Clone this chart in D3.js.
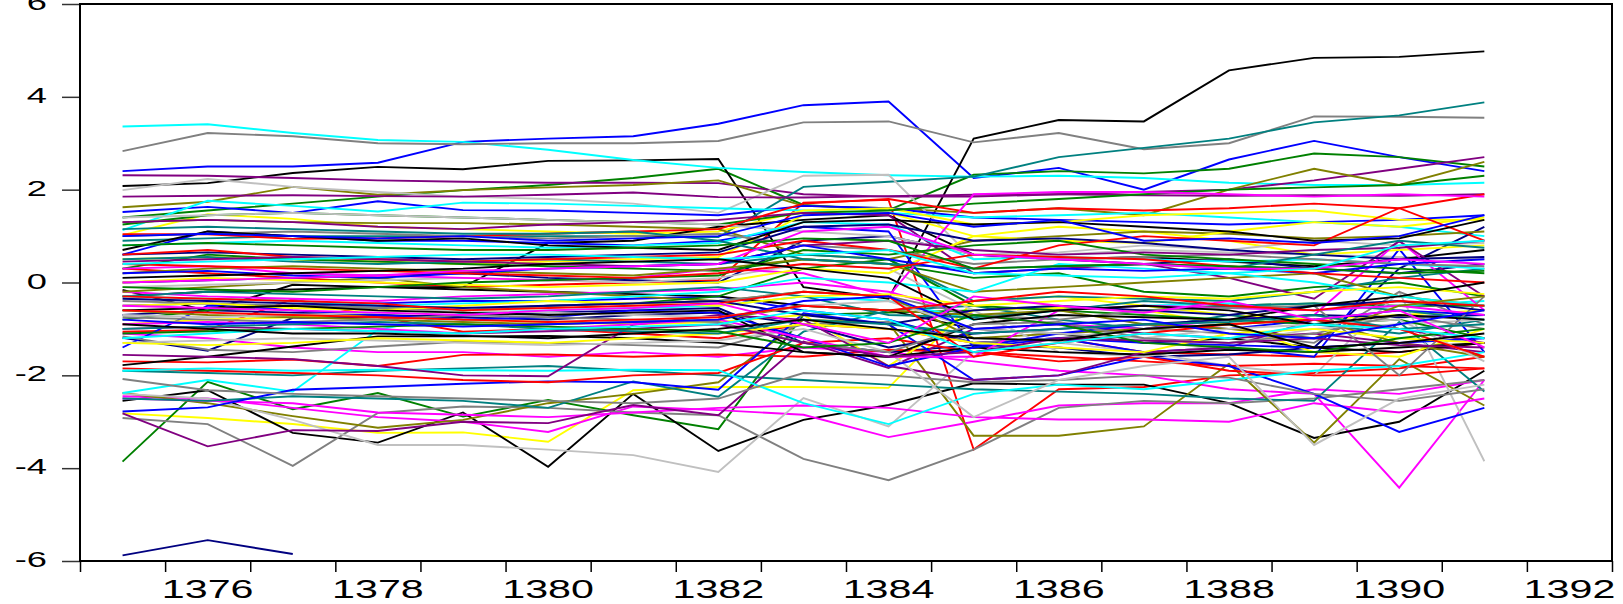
<!DOCTYPE html>
<html>
<head>
<meta charset="utf-8">
<script src="https://cdn.jsdelivr.net/npm/d3@7"></script>
<style>
    html, body { margin: 0; padding: 0; background: #fff; }
    svg { display: block; }
    .lbl { font-family: "Liberation Sans", Arial, sans-serif; fill: #000; }
</style>
</head>
<body>
<script>
// years of observation (one point per year)
const years = [1375, 1376, 1377, 1378, 1379, 1380, 1381, 1382, 1383, 1384, 1385, 1386, 1387, 1388, 1389, 1390, 1391];
const xTickLabels = [1376, 1378, 1380, 1382, 1384, 1386, 1388, 1390, 1392];
const yTickLabels = [-6, -4, -2, 0, 2, 4, 6];

// series, grouped by line colour
const blueSeries = [
    [2.4, 2.5, 2.5, 2.58, 3.03, 3.1, 3.15, 3.42, 3.82, 3.9, 2.25, 2.47, 2.0, 2.65, 3.05, 2.7, 2.4],
    [1.52, 1.63, 1.5, 1.75, 1.56, 1.55, 1.5, 1.45, 1.65, 1.6, 1.4, 1.35, 1.3, 1.25, 1.3, 1.35, 1.45],
    [-1.4, -0.5, -0.5, -0.45, -0.4, -0.4, -0.35, -0.3, -0.6, -0.8, -1.3, -1.2, -1.5, -1.4, -1.6, 0.72, -1.5],
    [-2.78, -2.69, -2.31, -2.25, -2.18, -2.13, -2.15, -2.31, -0.66, -0.9, -2.1, -2.0, -1.6, -1.8, -2.4, -3.22, -2.7],
    [0.6, 1.1, 1.0, 0.9, 0.9, 0.85, 0.8, 0.9, 1.2, 1.1, -1.4, -1.1, -0.9, -1.0, -0.8, -0.6, -0.7],
    [-0.5, -0.45, -0.6, -0.7, -0.8, -0.75, -0.6, -0.65, -1.2, -1.8, -1.4, -1.2, -1.3, -1.35, -1.4, -1.3, -1.2],
    [0.2, 0.25, 0.15, 0.1, 0.2, 0.3, 0.35, 0.4, 0.8, 0.5, 0.2, 0.3, 0.25, 0.3, 0.2, 0.4, 0.5],
    [1.0, 1.05, 1.0, 0.95, 1.0, 0.9, 0.95, 1.0, 1.45, 1.5, 1.2, 1.35, 0.9, 0.95, 0.85, 1.0, 1.45],
    [-0.8, -0.9, -0.85, -0.9, -0.95, -0.9, -0.85, -0.8, -0.4, -0.3, -1.0, -0.9, -0.8, -1.1, -1.2, -0.9, -0.6]
];
const redSeries = [
    [0.3, 0.2, 0.1, 0.0, -0.1, -0.05, 0.0, 0.05, 1.72, 1.78, -3.6, -2.3, -2.25, -2.0, -1.95, -1.85, -1.6],
    [-1.06, -1.02, -0.36, -0.74, -1.06, -1.0, -1.1, -1.2, -0.9, -1.0, -1.3, -1.2, -1.5, -1.55, -1.6, -1.5, -1.3],
    [-1.7, -1.72, -1.66, -1.8, -1.56, -1.55, -1.6, -1.55, -1.6, -1.45, -1.5, -1.6, -1.7, -1.8, -1.75, -1.8, -1.85],
    [-1.85, -1.9, -1.95, -2.0, -2.1, -2.15, -2.0, -1.95, -1.3, -1.2, -1.5, -1.7, -1.6, -1.9, -2.0, -2.0, -1.85],
    [1.04, 1.04, 0.94, 0.95, 1.0, 1.05, 1.1, 1.15, 1.7, 1.8, 1.5, 1.6, 1.55, 1.6, 1.7, 1.6, 1.9],
    [0.6, 0.7, 0.55, 0.5, 0.45, 0.5, 0.55, 0.6, 0.9, 0.7, 0.3, 0.8, 1.0, 0.9, 0.8, 1.6, 0.9],
    [0.4, 0.35, 0.3, 0.25, 0.2, 0.15, 0.1, 0.2, 0.4, 0.3, 0.6, 0.55, 0.5, 0.35, 0.2, 0.1, 0.0],
    [-0.3, -0.35, -0.4, -0.45, -0.6, -0.55, -0.5, -0.45, -0.2, -0.3, -1.6, -1.3, -1.1, -0.9, -0.8, -1.0, -1.6],
    [-0.6, -0.65, -0.7, -0.75, -0.8, -0.85, -0.8, -0.75, -0.5, -0.6, -0.4, -0.2, -0.3, -0.5, -0.6, -0.4, -0.5]
];
const greenSeries = [
    [1.4, 1.55, 1.7, 1.85, 1.99, 2.1, 2.25, 2.45, 1.67, 1.56, 2.32, 2.4, 2.35, 2.45, 2.78, 2.7, 2.5],
    [-3.86, -2.14, -2.73, -2.38, -2.89, -2.53, -2.86, -3.16, -0.7, -0.65, -0.6, -0.55, -0.6, -0.5, -0.45, -0.5, -0.5],
    [1.25, 1.45, 1.5, 1.45, 1.4, 1.35, 1.3, 1.25, 1.5, 1.55, 1.7, 1.8, 1.9, 2.0, 2.05, 2.1, 2.3],
    [0.3, 0.6, 0.5, 0.45, 0.4, 0.35, 0.3, 0.25, 0.5, 0.4, 0.1, 0.2, -0.2, -0.3, -0.1, 0.0, -0.3],
    [-0.8, -0.6, -0.5, -0.55, -0.6, -0.5, -0.45, -0.3, 0.3, 0.5, -0.5, -0.6, -0.7, -0.8, -0.9, -0.8, -1.2],
    [-0.1, -0.15, -0.2, -0.1, 0.0, 0.05, 0.1, 0.15, 0.7, 0.6, 0.8, 0.9, 0.6, 0.5, 0.4, 0.3, 0.2],
    [0.8, 0.85, 0.8, 0.75, 0.7, 0.7, 0.75, 0.8, 0.95, 0.9, 0.3, 0.35, 0.4, 0.35, 0.3, 0.2, 0.25],
    [-1.1, -1.05, -1.0, -0.95, -0.9, -0.95, -1.0, -1.05, -1.4, -1.3, -0.7, -0.9, -1.3, -1.4, -1.5, -1.2, -1.0]
];
const blackSeries = [
    [2.08, 2.14, 2.36, 2.49, 2.44, 2.62, 2.63, 2.66, -0.1, -0.35, 3.1, 3.5, 3.47, 4.57, 4.84, 4.86, 4.98],
    [-2.55, -2.32, -3.24, -3.45, -2.8, -3.97, -2.4, -3.63, -2.96, -2.64, -2.17, -2.2, -2.2, -2.6, -3.35, -3.0, -1.9],
    [-0.3, -0.2, -0.15, -0.1, -0.1, 0.85, 0.9, 1.2, 1.35, 1.45, 0.6, 0.5, 0.55, 0.45, 0.35, 0.5, 0.7],
    [-0.16, -0.61, -0.05, -0.1, -0.15, -0.2, -0.25, -0.3, -0.5, -0.6, -1.0, -1.1, -1.3, -1.2, -1.4, -1.5, -1.3],
    [-1.78, -1.6, -1.38, -1.16, -1.16, -1.15, -1.2, -1.3, -1.5, -1.6, -1.4, -1.5, -1.55, -1.45, -1.5, -1.4, -1.3],
    [0.7, 1.1, 1.0, 0.9, 0.95, 0.8, 0.75, 0.7, 1.3, 1.35, 1.25, 1.3, 1.2, 1.1, 0.9, 0.95, 1.35],
    [-0.6, -0.55, -0.5, -0.6, -0.65, -0.7, -0.65, -0.6, -1.5, -1.6, -0.9, -0.7, -0.75, -0.8, -0.5, -0.3, 0.0],
    [0.1, 0.15, 0.2, 0.25, 0.3, 0.4, 0.45, 0.5, 0.3, 0.1, -0.8, -0.6, -0.5, -0.6, -0.9, -0.7, -0.8],
    [-0.9, -1.0, -1.1, -1.1, -1.15, -1.2, -1.1, -1.0, -0.8, -1.0, -1.2, -1.25, -1.0, -0.9, -1.4, -1.3, -1.1]
];
const magentaSeries = [
    [-1.1, -1.2, -1.4, -1.5, -1.5, -1.6, -1.5, -1.6, -1.4, -1.5, -1.7, -1.9, -2.0, -2.3, -2.4, -4.42, -2.1],
    [-2.45, -2.5, -2.7, -2.9, -3.0, -3.22, -2.67, -2.75, -2.85, -3.33, -3.0, -2.65, -2.6, -2.6, -2.3, -2.4, -2.1],
    [-2.5, -2.55, -2.6, -2.8, -2.85, -2.9, -2.8, -2.7, -2.65, -2.7, -2.9, -2.95, -2.95, -3.0, -2.6, -2.8, -2.5],
    [-0.2, -0.3, -0.35, -0.4, -0.3, -0.25, -0.2, -0.15, 0.0, -0.2, -0.7, -0.9, -1.0, -0.8, -0.7, 0.9, -0.6],
    [0.3, 0.35, 0.2, 0.15, 0.1, 0.05, 0.1, 0.3, 0.2, -0.3, 1.9, 1.95, 1.95, 1.9, 1.85, 1.9, 1.85],
    [-0.9, -0.85, -0.9, -1.0, -1.1, -1.0, -0.9, -0.8, -1.2, -1.6, -1.6, -0.6, -0.5, -0.55, -0.6, -0.5, -0.7],
    [0.0, 0.05, 0.1, 0.15, 0.25, 0.3, 0.35, 0.4, 1.1, 1.2, 0.6, 0.5, 0.4, 0.3, 0.3, 0.5, 0.4],
    [-0.5, -0.55, -0.6, -0.65, -0.7, -0.6, -0.55, -0.45, -0.9, -1.3, -0.3, -0.5, -0.65, -0.4, -0.8, -0.6, -1.4]
];
const cyanSeries = [
    [3.36, 3.41, 3.22, 3.07, 3.03, 2.86, 2.64, 2.47, 2.38, 2.31, 2.28, 2.3, 2.25, 2.15, 2.1, 2.1, 2.15],
    [1.13, 1.76, 1.65, 1.53, 1.72, 1.7, 1.65, 1.6, 1.55, 1.5, 1.4, 1.45, 1.5, 1.4, 1.3, 1.2, 1.0],
    [-2.38, -2.1, -2.35, -1.02, -0.66, -0.6, -0.55, -0.5, -0.3, -0.4, -0.8, -0.6, -0.5, -0.45, -0.6, -0.5, -0.4],
    [-1.9, -1.85, -1.9, -1.88, -1.89, -1.9, -1.88, -1.89, -2.6, -3.05, -2.4, -2.2, -2.3, -2.1, -1.9, -1.8, -1.5],
    [0.8, 0.85, 0.9, 0.85, 0.8, 0.75, 0.8, 0.85, 1.3, 1.25, 0.5, 0.55, 0.5, 0.45, 0.5, 0.4, 0.3],
    [-0.3, -0.35, -0.4, -0.5, -0.45, -0.4, -0.3, -0.2, 0.1, 0.0, -0.2, 0.4, 0.3, 0.2, 0.0, -0.3, -0.5],
    [0.4, 0.45, 0.5, 0.55, 0.6, 0.6, 0.55, 0.5, 0.6, 0.7, 0.2, 0.15, 0.1, 0.2, 0.3, 0.8, 0.9],
    [-1.2, -1.1, -1.0, -1.05, -1.1, -1.0, -0.95, -0.9, -0.6, -0.8, -1.5, -1.3, -1.1, -1.2, -0.9, -1.0, -1.2]
];
const graySeries = [
    [2.83, 3.22, 3.15, 3.0, 2.98, 3.0, 3.0, 3.05, 3.45, 3.47, 3.02, 3.22, 2.87, 3.0, 3.58, 3.57, 3.55],
    [-2.92, -3.05, -3.95, -2.81, -2.67, -2.7, -2.8, -2.86, -3.8, -4.26, -3.6, -2.7, -2.55, -2.6, -2.5, -2.3, -2.1],
    [-1.16, -1.45, -1.5, -1.38, -1.27, -1.3, -1.35, -1.4, -0.9, -0.85, -1.3, -1.2, -1.0, -1.1, -1.3, -0.2, -0.9],
    [-2.08, -2.32, -2.4, -2.45, -2.5, -2.55, -2.6, -2.5, -1.95, -2.0, -2.15, -2.1, -2.0, -2.05, -2.4, -2.55, -2.3],
    [1.0, 1.05, 1.1, 1.05, 1.0, 0.95, 1.0, 1.05, 0.8, 0.7, 0.4, 0.5, 0.55, 0.6, 0.5, 0.4, 0.35],
    [-0.4, -0.45, -0.5, -0.55, -0.6, -0.5, -0.45, -0.4, -0.2, -0.3, -0.7, -0.8, -0.6, -0.55, -0.5, -2.0, -0.3],
    [-0.75, -0.8, -0.85, -0.8, -0.7, -0.75, -0.8, -0.85, -1.3, -1.5, -0.9, -0.85, -1.2, -1.3, -1.1, -0.7, -1.0]
];
const yellowSeries = [
    [-2.82, -2.92, -3.05, -3.24, -3.23, -3.43, -2.32, -2.25, -2.25, -2.27, -0.4, -0.3, -0.5, -0.7, -0.8, -0.7, -0.6],
    [1.02, 1.47, 1.37, 1.2, 1.15, 1.1, 1.05, 1.1, 1.55, 1.6, 1.25, 1.3, 1.45, 1.5, 1.55, 1.35, 1.35],
    [0.5, 0.55, 0.5, 0.45, 0.4, 0.45, 0.5, 0.55, 1.45, 1.5, 1.0, 1.2, 1.1, 0.9, 0.6, 0.7, 0.8],
    [-0.9, -0.8, -0.75, -0.7, -0.8, -0.85, -0.9, -0.85, -0.7, -1.8, -0.6, -0.55, -0.6, -0.9, -1.5, -1.6, -1.0],
    [0.0, 0.1, 0.05, 0.0, -0.05, -0.1, -0.05, 0.0, 0.3, 0.2, 1.0, 0.9, 0.85, 1.1, 1.3, 1.2, 1.4],
    [-0.5, -0.45, -0.55, -0.6, -0.5, -0.4, -0.45, -0.5, -0.3, -0.25, -0.5, -0.4, -0.3, -0.35, -0.2, -0.1, -0.25],
    [-1.3, -1.35, -1.3, -1.2, -1.25, -1.3, -1.2, -1.1, -0.9, -1.0, -1.3, -1.4, -1.5, -1.1, -1.0, -1.2, -1.3]
];
const navySeries = [
    [-5.88, -5.55, -5.85, null, null, null, null, null, null, null, null, null, null, null, null, null, null],
    [-1.19, -1.47, -0.76, -0.75, -0.7, -0.65, -0.6, -0.55, -1.3, -1.5, -1.35, -1.4, -1.6, -1.55, -1.4, 0.3, 1.2],
    [0.0, 0.05, 0.1, 0.15, 0.2, 0.1, 0.05, 0.0, 0.9, 1.0, 0.6, 0.5, 0.4, 0.5, 0.3, 0.2, 0.4],
    [-0.7, -0.6, -0.65, -0.7, -0.75, -0.8, -0.7, -0.65, -0.9, -1.4, -1.1, -1.0, -0.9, -0.8, -0.7, -0.75, -0.7],
    [0.6, 0.65, 0.6, 0.55, 0.5, 0.55, 0.6, 0.65, 1.2, 1.25, 0.9, 0.95, 0.85, 0.7, 0.6, 0.5, 0.55],
    [-0.35, -0.4, -0.45, -0.5, -0.55, -0.5, -0.45, -0.4, -0.7, -0.9, -0.6, -0.5, -0.6, -0.7, -0.5, -0.4, -0.6]
];
const purpleSeries = [
    [2.31, 2.3, 2.25, 2.2, 2.17, 2.15, 2.15, 2.14, 1.9, 1.85, 1.85, 1.9, 1.95, 2.0, 2.2, 2.45, 2.7],
    [1.85, 1.87, 1.88, 1.86, 1.85, 1.89, 1.94, 1.84, 1.83, 1.86, 1.89, 1.9, 1.88, 1.87, 1.88, 1.87, 1.9],
    [-2.82, -3.53, -3.18, -3.2, -3.0, -3.03, -2.64, -2.86, -1.27, -1.84, -1.0, -0.9, -1.1, -1.2, -1.1, -1.3, -1.5],
    [1.3, 1.35, 1.3, 1.2, 1.15, 1.25, 1.3, 1.35, 1.5, 1.45, 0.2, 0.3, 0.4, 0.1, -0.35, 0.89, -0.3],
    [-1.56, -1.6, -1.65, -1.8, -2.0, -2.02, -0.91, -0.7, -0.8, -1.8, -2.1, -2.0, -1.5, -1.4, -0.8, -1.0, -1.3],
    [0.45, 0.5, 0.55, 0.5, 0.45, 0.4, 0.35, 0.4, 0.8, 0.9, 0.7, 0.6, 0.65, 0.6, 0.7, 0.75, 0.9],
    [-1.0, -0.95, -1.0, -1.05, -1.1, -1.05, -1.0, -0.9, -1.3, -1.6, -1.5, -1.2, -1.25, -1.3, -1.2, -1.35, -1.4]
];
const oliveSeries = [
    [1.62, 1.74, 2.06, 1.89, 1.99, 2.05, 2.1, 2.2, 1.65, 1.6, 1.5, 1.6, 1.45, 2.0, 2.45, 2.1, 2.6],
    [-2.38, -2.6, -2.88, -3.13, -2.96, -2.6, -2.4, -2.15, -0.8, -0.87, -3.3, -3.3, -3.1, -1.75, -3.45, -1.65, -2.65],
    [1.3, 1.35, 1.3, 1.28, 1.28, 1.25, 1.2, 1.15, 0.6, 0.5, 0.9, 1.0, 1.1, 1.05, 0.95, 1.0, 1.1],
    [-0.2, -0.1, 0.0, 0.1, -0.1, -0.2, -0.3, -0.4, -0.2, -0.3, -1.2, -1.1, -1.0, -0.9, -0.8, -1.3, -1.6],
    [0.2, 0.3, 0.35, 0.3, 0.25, 0.2, 0.15, 0.3, 0.5, 0.4, -0.2, -0.1, 0.0, 0.1, 0.2, -0.3, -0.5],
    [-0.6, -0.7, -0.75, -0.8, -0.85, -0.9, -0.85, -0.8, -0.5, -0.6, -0.7, -0.6, -0.9, -1.0, -1.2, -0.5, -0.3]
];
const tealSeries = [
    [0.9, 0.95, 1.0, 1.0, 1.0, 1.0, 1.0, 0.98, 2.06, 2.17, 2.28, 2.7, 2.9, 3.1, 3.45, 3.6, 3.88],
    [-1.9, -1.95, -2.0, -1.9, -1.85, -1.8, -1.9, -2.0, -2.1, -2.2, -2.3, -2.35, -2.4, -2.5, -2.55, -0.85, -2.35],
    [-2.5, -2.55, -2.45, -2.5, -2.55, -2.7, -2.13, -2.46, -1.06, -0.6, -0.5, -0.8, -1.0, -0.7, -0.9, -1.1, -0.8],
    [0.5, 0.55, 0.45, 0.4, 0.45, 0.5, 0.45, 0.4, 0.6, 0.5, -0.4, -0.3, -0.35, -0.4, -0.2, 0.1, 0.3],
    [-0.3, -0.2, -0.25, -0.3, -0.35, -0.3, -0.2, -0.1, -0.3, -0.7, -0.75, -0.6, -0.4, -0.5, -0.45, -0.6, -0.8],
    [1.15, 1.2, 1.15, 1.1, 1.05, 1.05, 1.1, 0.9, 0.5, 0.4, 0.3, 0.35, 0.4, 0.3, 0.6, 0.9, 0.75],
    [-1.0, -0.95, -0.9, -0.85, -0.9, -1.0, -1.05, -1.1, -0.8, -0.9, -1.1, -1.0, -0.9, -0.85, -0.7, -1.0, -0.9]
];
const silverSeries = [
    [1.99, 2.23, 2.06, 1.95, 1.85, 1.8, 1.7, 1.5, 2.3, 2.32, 0.5, 0.6, 0.7, 0.65, 0.6, 0.55, 0.5],
    [-2.4, -2.5, -2.96, -3.5, -3.5, -3.6, -3.72, -4.08, -2.49, -3.1, -1.5, -1.3, -1.5, -1.8, -2.0, -0.2, -3.85],
    [1.4, 1.45, 1.5, 1.45, 1.4, 1.35, 1.3, 1.25, 1.1, 1.0, 0.6, 0.65, 0.8, 0.7, 0.9, 0.8, 0.85],
    [-0.1, -0.05, 0.0, 0.05, 0.1, 0.05, 0.0, 0.1, 0.4, 0.3, -0.6, -1.5, -1.6, -1.3, -1.0, -0.9, -0.8],
    [-1.3, -1.25, -1.2, -1.25, -1.3, -1.35, -1.3, -1.25, -1.0, -1.5, -2.9, -2.1, -1.8, -1.6, -3.5, -2.5, -2.2],
    [-0.7, -0.75, -0.7, -0.65, -0.6, -0.65, -0.7, -0.75, -0.5, -0.4, -1.0, -1.1, -1.2, -1.0, -0.9, -0.8, -1.7]
];

// colour of each group, in the order the series are drawn
const groups = [
    { color: "#0000FF", data: blueSeries },
    { color: "#FF0000", data: redSeries },
    { color: "#008000", data: greenSeries },
    { color: "#000000", data: blackSeries },
    { color: "#FF00FF", data: magentaSeries },
    { color: "#00FFFF", data: cyanSeries },
    { color: "#808080", data: graySeries },
    { color: "#FFFF00", data: yellowSeries },
    { color: "#000080", data: navySeries },
    { color: "#800080", data: purpleSeries },
    { color: "#808000", data: oliveSeries },
    { color: "#008080", data: tealSeries },
    { color: "#C0C0C0", data: silverSeries }
];

// interleave the groups so colours alternate like series in a workfile
let seriesList = [];
let maxLen = d3.max(groups, g => g.data.length);
for (let k = 0; k < maxLen; k++) {
    for (let g of groups) {
        if (k < g.data.length) {
            seriesList.push({ color: g.color, values: g.data[k] });
        }
    }
}

const width = 1623, height = 604;
const plotLeft = 80, plotRight = 1612, plotTop = 4, plotBottom = 561;
const stretch = 1.65;   // labels are drawn wide in the original

let svg = d3.select("body").append("svg")
    .attr("width", width)
    .attr("height", height);

// each year is a band; points sit in the middle of their band
let x = d3.scaleLinear().domain([1374.5, 1392.5]).range([plotLeft, plotRight]);
let y = d3.scaleLinear().domain([-6, 6]).range([plotBottom, plotTop]);

let line = d3.line()
    .defined(d => d != null)
    .x((d, i) => x(years[i]))
    .y(d => y(d));

svg.append("g")
    .selectAll("path")
    .data(seriesList)
    .enter().append("path")
    .attr("fill", "none")
    .attr("stroke", d => d.color)
    .attr("stroke-width", 1.9)
    .attr("stroke-linejoin", "miter")
    .attr("d", d => line(d.values));

// ticks at band edges
let bandEdges = d3.range(1374.5, 1393, 1);
svg.append("g")
    .attr("transform", "translate(0," + plotBottom + ")")
    .call(d3.axisBottom(x).tickValues(bandEdges).tickSize(11).tickFormat(""))
    .call(g => g.select(".domain").remove())
    .call(g => g.selectAll("line").attr("stroke", "#000").attr("stroke-width", 1.5));

svg.append("g")
    .attr("transform", "translate(" + plotLeft + ",0)")
    .call(d3.axisLeft(y).tickValues(yTickLabels).tickSize(18).tickFormat(""))
    .call(g => g.select(".domain").remove())
    .call(g => g.selectAll("line").attr("stroke", "#333").attr("stroke-width", 1.5));

// tick labels
svg.append("g")
    .selectAll("text")
    .data(xTickLabels)
    .enter().append("text")
    .attr("class", "lbl")
    .attr("text-anchor", "middle")
    .attr("font-size", 25)
    .attr("transform", d => "translate(" + x(d) + ",598) scale(" + stretch + ",1)")
    .text(d => d);

// the top label sits on the frame edge and is clipped by the page, as in the original
svg.append("g")
    .selectAll("text")
    .data(yTickLabels)
    .enter().append("text")
    .attr("class", "lbl")
    .attr("text-anchor", "end")
    .attr("font-size", 22)
    .attr("transform", d => "translate(47," + (y(d) + 6) + ") scale(" + stretch + ",1)")
    .text(d => d);

// frame
svg.append("rect")
    .attr("x", plotLeft)
    .attr("y", plotTop)
    .attr("width", plotRight - plotLeft)
    .attr("height", plotBottom - plotTop)
    .attr("fill", "none")
    .attr("stroke", "#000")
    .attr("stroke-width", 2);
</script>
</body>
</html>
